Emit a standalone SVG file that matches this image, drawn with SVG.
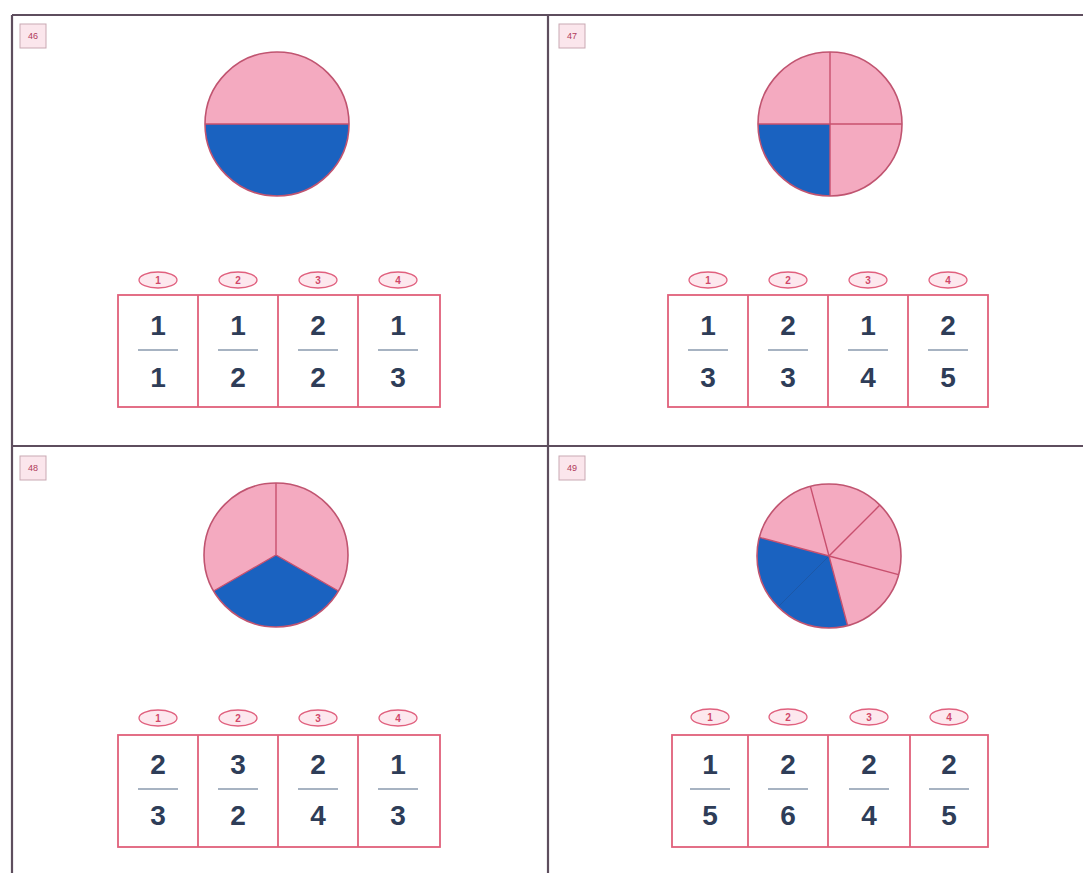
<svg xmlns="http://www.w3.org/2000/svg" width="1083" height="873" viewBox="0 0 1083 873">
<style>
.frame{stroke:#5e4e5e;stroke-width:2.2;fill:none}
.tag rect{fill:#fbe6ec;stroke:#c9a9b3;stroke-width:1}
.tag text{font-family:"Liberation Sans",Arial,sans-serif;font-size:9px;fill:#b03a5a;text-anchor:middle}
.pink{fill:#f4aac0}
.blue{fill:#1a62c0}
.rim{fill:none;stroke:#c05470;stroke-width:1.6}
.spoke{stroke:#c8506e;stroke-width:1.4;fill:none}
.opt ellipse{fill:#fde8ee;stroke:#e0607e;stroke-width:1.3}
.opt text{font-family:"Liberation Sans",Arial,sans-serif;font-size:10px;font-weight:bold;fill:#d0486a;text-anchor:middle}
.tbl rect{fill:#fff;stroke:#e0607a;stroke-width:1.8}
.tbl line{stroke:#e0607a;stroke-width:1.8}
.num{font-family:"Liberation Sans Narrow","Liberation Sans",Arial,sans-serif;font-weight:bold;font-size:28px;fill:#2e3d58;text-anchor:middle}
.bar{stroke:#8a9aae;stroke-width:1.3}
</style>
<rect width="1083" height="873" fill="#ffffff"/>
<g id="frame">
<line class="frame" x1="12" y1="15" x2="1083" y2="15"/>
<line class="frame" x1="12" y1="15" x2="12" y2="873"/>
<line class="frame" x1="548" y1="15" x2="548" y2="873"/>
<line class="frame" x1="12" y1="446" x2="1083" y2="446"/>
</g>

<g id="panel46">
<g class="tag"><rect x="20" y="24" width="26" height="24"/><text x="33" y="39">46</text></g>
<g id="pie46">
<circle class="pink" cx="277" cy="124" r="72"/>
<path class="blue" d="M205,124 A72,72 0 0,0 349,124 Z"/>
<line class="spoke" x1="205" y1="124" x2="349" y2="124"/>
<circle class="rim" cx="277" cy="124" r="72"/>
</g>
<g class="opt">
<ellipse cx="158" cy="280" rx="19" ry="8"/><text x="158" y="284">1</text>
<ellipse cx="238" cy="280" rx="19" ry="8"/><text x="238" y="284">2</text>
<ellipse cx="318" cy="280" rx="19" ry="8"/><text x="318" y="284">3</text>
<ellipse cx="398" cy="280" rx="19" ry="8"/><text x="398" y="284">4</text>
</g>
<g class="tbl">
<rect x="118" y="295" width="322" height="112"/>
<line x1="198" y1="295" x2="198" y2="407"/>
<line x1="278" y1="295" x2="278" y2="407"/>
<line x1="358" y1="295" x2="358" y2="407"/>
</g>
<g>
<text class="num" x="158" y="335">1</text><line class="bar" x1="138" y1="350" x2="178" y2="350"/><text class="num" x="158" y="387">1</text>
<text class="num" x="238" y="335">1</text><line class="bar" x1="218" y1="350" x2="258" y2="350"/><text class="num" x="238" y="387">2</text>
<text class="num" x="318" y="335">2</text><line class="bar" x1="298" y1="350" x2="338" y2="350"/><text class="num" x="318" y="387">2</text>
<text class="num" x="398" y="335">1</text><line class="bar" x1="378" y1="350" x2="418" y2="350"/><text class="num" x="398" y="387">3</text>
</g>
</g>

<g id="panel47">
<g class="tag"><rect x="559" y="24" width="26" height="24"/><text x="572" y="39">47</text></g>
<g id="pie47">
<circle class="pink" cx="830" cy="124" r="72"/>
<path class="blue" d="M830,124 L758,124 A72,72 0 0,0 830,196 Z"/>
<line class="spoke" x1="830" y1="52" x2="830" y2="196" stroke="#e85070"/>
<line class="spoke" x1="758" y1="124" x2="902" y2="124" stroke="#e85070"/>
<circle class="rim" cx="830" cy="124" r="72"/>
</g>
<g class="opt">
<ellipse cx="708" cy="280" rx="19" ry="8"/><text x="708" y="284">1</text>
<ellipse cx="788" cy="280" rx="19" ry="8"/><text x="788" y="284">2</text>
<ellipse cx="868" cy="280" rx="19" ry="8"/><text x="868" y="284">3</text>
<ellipse cx="948" cy="280" rx="19" ry="8"/><text x="948" y="284">4</text>
</g>
<g class="tbl">
<rect x="668" y="295" width="320" height="112"/>
<line x1="748" y1="295" x2="748" y2="407"/>
<line x1="828" y1="295" x2="828" y2="407"/>
<line x1="908" y1="295" x2="908" y2="407"/>
</g>
<g>
<text class="num" x="708" y="335">1</text><line class="bar" x1="688" y1="350" x2="728" y2="350"/><text class="num" x="708" y="387">3</text>
<text class="num" x="788" y="335">2</text><line class="bar" x1="768" y1="350" x2="808" y2="350"/><text class="num" x="788" y="387">3</text>
<text class="num" x="868" y="335">1</text><line class="bar" x1="848" y1="350" x2="888" y2="350"/><text class="num" x="868" y="387">4</text>
<text class="num" x="948" y="335">2</text><line class="bar" x1="928" y1="350" x2="968" y2="350"/><text class="num" x="948" y="387">5</text>
</g>
</g>

<g id="panel48">
<g class="tag"><rect x="20" y="456" width="26" height="24"/><text x="33" y="471">48</text></g>
<g id="pie48">
<circle class="pink" cx="276" cy="555" r="72"/>
<path class="blue" d="M276,555 L338.4,591 A72,72 0 0,1 213.6,591 Z"/>
<path class="spoke" d="M276,483 L276,555 M213.6,591 L276,555 L338.4,591" stroke="#9a3050" stroke-width="1.2"/>
<circle class="rim" cx="276" cy="555" r="72"/>
</g>
<g class="opt">
<ellipse cx="158" cy="718" rx="19" ry="8"/><text x="158" y="722">1</text>
<ellipse cx="238" cy="718" rx="19" ry="8"/><text x="238" y="722">2</text>
<ellipse cx="318" cy="718" rx="19" ry="8"/><text x="318" y="722">3</text>
<ellipse cx="398" cy="718" rx="19" ry="8"/><text x="398" y="722">4</text>
</g>
<g class="tbl">
<rect x="118" y="735" width="322" height="112"/>
<line x1="198" y1="735" x2="198" y2="847"/>
<line x1="278" y1="735" x2="278" y2="847"/>
<line x1="358" y1="735" x2="358" y2="847"/>
</g>
<g>
<text class="num" x="158" y="774">2</text><line class="bar" x1="138" y1="789" x2="178" y2="789"/><text class="num" x="158" y="825">3</text>
<text class="num" x="238" y="774">3</text><line class="bar" x1="218" y1="789" x2="258" y2="789"/><text class="num" x="238" y="825">2</text>
<text class="num" x="318" y="774">2</text><line class="bar" x1="298" y1="789" x2="338" y2="789"/><text class="num" x="318" y="825">4</text>
<text class="num" x="398" y="774">1</text><line class="bar" x1="378" y1="789" x2="418" y2="789"/><text class="num" x="398" y="825">3</text>
</g>
</g>

<g id="panel49">
<g class="tag"><rect x="559" y="456" width="26" height="24"/><text x="572" y="471">49</text></g>
<g id="pie49">
<circle class="pink" cx="829" cy="556" r="72"/>
<path class="blue" d="M829,556 L847.6,625.5 A72,72 0 0,1 759.5,537.4 Z"/>
<line x1="829" y1="556" x2="778.1" y2="606.9" stroke="#1d58a8" stroke-width="1"/>
<path class="spoke" d="M829,556 L810.4,486.4 M829,556 L879.9,505.1 M829,556 L898.5,574.6 M829,556 L847.6,625.5 M829,556 L759.5,537.4" stroke="#b8486a" stroke-width="1.3"/>
<circle class="rim" cx="829" cy="556" r="72"/>
</g>
<g class="opt">
<ellipse cx="710" cy="717" rx="19" ry="8"/><text x="710" y="721">1</text>
<ellipse cx="788" cy="717" rx="19" ry="8"/><text x="788" y="721">2</text>
<ellipse cx="869" cy="717" rx="19" ry="8"/><text x="869" y="721">3</text>
<ellipse cx="949" cy="717" rx="19" ry="8"/><text x="949" y="721">4</text>
</g>
<g class="tbl">
<rect x="672" y="735" width="316" height="112"/>
<line x1="748" y1="735" x2="748" y2="847"/>
<line x1="828" y1="735" x2="828" y2="847"/>
<line x1="910" y1="735" x2="910" y2="847"/>
</g>
<g>
<text class="num" x="710" y="774">1</text><line class="bar" x1="690" y1="789" x2="730" y2="789"/><text class="num" x="710" y="825">5</text>
<text class="num" x="788" y="774">2</text><line class="bar" x1="768" y1="789" x2="808" y2="789"/><text class="num" x="788" y="825">6</text>
<text class="num" x="869" y="774">2</text><line class="bar" x1="849" y1="789" x2="889" y2="789"/><text class="num" x="869" y="825">4</text>
<text class="num" x="949" y="774">2</text><line class="bar" x1="929" y1="789" x2="969" y2="789"/><text class="num" x="949" y="825">5</text>
</g>
</g>
</svg>
